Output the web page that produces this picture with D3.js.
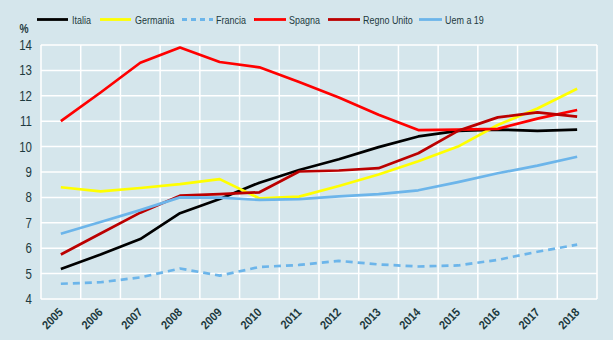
<!DOCTYPE html>
<html><head><meta charset="utf-8">
<script src="https://cdn.jsdelivr.net/npm/d3@7"></script>
<style>
html,body{margin:0;padding:0;background:#d5e6ec;}
svg{display:block;}
text{font-family:"Liberation Sans Narrow","Liberation Sans",Arial,sans-serif;fill:#1d3a3e;}
</style></head>
<body><svg id="c" width="613" height="340"></svg>
<script>
const years = ["2005","2006","2007","2008","2009","2010","2011","2012","2013","2014","2015","2016","2017","2018"];
const yTicks = [4,5,6,7,8,9,10,11,12,13,14];
const italia = [5.18,5.75,6.36,7.38,7.94,8.58,9.08,9.5,9.98,10.4,10.62,10.67,10.62,10.67];
const germania = [8.4,8.24,8.37,8.52,8.72,7.96,8.03,8.45,8.9,9.42,10.0,10.85,11.5,12.28];
const francia = [4.6,4.66,4.85,5.2,4.92,5.26,5.34,5.5,5.36,5.28,5.32,5.54,5.86,6.14];
const spagna = [11.0,12.13,13.3,13.9,13.33,13.12,12.54,11.93,11.25,10.65,10.67,10.7,11.1,11.44];
const regnoUnito = [5.75,6.58,7.4,8.07,8.13,8.2,9.02,9.06,9.15,9.74,10.62,11.15,11.35,11.18];
const uem = [6.57,7.03,7.5,8.0,7.99,7.9,7.93,8.04,8.13,8.28,8.6,8.95,9.25,9.6];

const series = [
  {name:"Italia", values:italia, color:"#000000", dash:null},
  {name:"Germania", values:germania, color:"#ffff00", dash:null},
  {name:"Francia", values:francia, color:"#6cb5ea", dash:"7,5"},
  {name:"Spagna", values:spagna, color:"#ff0000", dash:null},
  {name:"Regno Unito", values:regnoUnito, color:"#bb0000", dash:null},
  {name:"Uem a 19", values:uem, color:"#6cb5ea", dash:null}
];

const svg = d3.select("#c");
const L=41, R=597, T=45, B=299;
const x = d3.scaleBand().domain(years).range([L,R]);
const y = d3.scaleLinear().domain([4,14]).range([B,T]);
const cx = d => x(d) + x.bandwidth()/2;

// grid
const g = svg.append("g");
g.selectAll(".h").data(yTicks).join("line")
  .attr("x1",L).attr("x2",R).attr("y1",d=>y(d)).attr("y2",d=>y(d))
  .attr("stroke","#ffffff").attr("stroke-width",1.5);
const bounds = years.map(d=>x(d)).concat([R]);
g.selectAll(".v").data(bounds).join("line")
  .attr("x1",d=>d).attr("x2",d=>d).attr("y1",T).attr("y2",B)
  .attr("stroke","#ffffff").attr("stroke-width",1.5);

// y axis labels (condensed)
svg.append("g").selectAll("text").data(yTicks).join("text")
  .attr("transform",d=>`translate(32,${y(d)}) scale(0.82,1)`)
  .attr("text-anchor","end").attr("dy","0.36em")
  .style("font-size","14px").text(d=>d);
svg.append("text").attr("transform","translate(24,33) scale(0.85,1)").attr("text-anchor","middle")
  .style("font-size","12px").style("font-weight","bold").text("%");

// x axis labels
svg.append("g").selectAll("text").data(years).join("text")
  .attr("transform",d=>`translate(${cx(d)+3},${B+14}) rotate(-45) scale(0.9,1)`)
  .attr("text-anchor","end")
  .style("font-size","12px").style("font-weight","bold").text(d=>d);

// lines
const line = d3.line().x((d,i)=>cx(years[i])).y(d=>y(d));
svg.append("g").selectAll("path").data(series).join("path")
  .attr("d",d=>line(d.values)).attr("fill","none")
  .attr("stroke",d=>d.color).attr("stroke-width",2.7)
  .attr("stroke-dasharray",d=>d.dash)
  .attr("stroke-linejoin","round");

// legend
const legX = [[37,68,72],[100,131,135],[182,213,216],[254,286,289],[328,360,363],[419,442,445]];
const lg = svg.append("g");
series.forEach((s,i)=>{
  const p = legX[i];
  lg.append("line").attr("x1",p[0]).attr("x2",p[1]).attr("y1",19.5).attr("y2",19.5)
    .attr("stroke",s.color).attr("stroke-width",2.8).attr("stroke-dasharray",s.dash?"5,4":null);
  lg.append("text").attr("transform",`translate(${p[2]},19.5) scale(0.78,1)`).attr("dy","0.35em")
    .style("font-size","11.5px").text(s.name);
});
</script></body></html>
